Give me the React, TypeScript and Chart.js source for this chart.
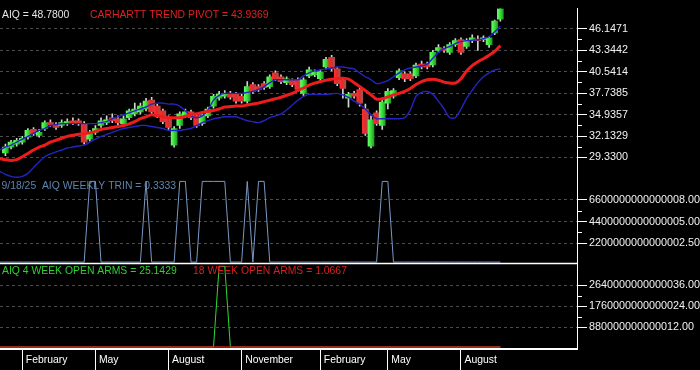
import React, { useEffect, useRef } from 'react';
import { Chart, registerables } from 'chart.js';

Chart.register(...registerables);

// Weekly bars: index 0 = week ending 2024-01-05 ... index 89 = week ending 2025-09-19
const WEEK_COUNT = 90;
const MONTH_TICK_INDEX = [4, 17, 30, 43, 57, 69, 82];
const MONTH_LABELS = ['February', 'May', 'August', 'November', 'February', 'May', 'August'];

const OPEN = [null, 29.93, 30.69, 31.08, 31.33, 31.97, 32.99, 32.22, 33.11, 33.88,
  33.62, 33.50, 33.75, 34.13, 34.13, 33.75, 31.71, 32.60, 33.50, 33.88,
  34.52, 34.39, 33.75, 34.52, 35.03, 35.28, 35.66, 36.81, 36.04, 35.41,
  34.52, 30.95, 33.50, 34.77, 35.28, 34.77, 33.75, 34.77, 36.04, 37.06,
  37.32, 37.70, 37.57, 37.32, 36.68, 38.85, 38.59, 38.97, 38.59, 40.38,
  39.87, 39.10, 39.36, 39.48, 37.70, 39.99, 40.12, 39.61, 41.14, 42.41,
  40.89, 39.48, 37.06, 37.70, 38.21, 35.66, 30.82, 35.15, 33.50, 36.43,
  37.32, 39.74, 40.25, 40.25, 39.99, 41.52, 41.52, 41.40, 43.31, 43.56,
  43.05, 44.07, 44.71, 43.82, 44.58, 44.71, 44.71, 44.07, 45.60, 47.38];

const HIGH = [null, 31.08, 31.58, 31.84, 32.09, 33.11, 33.24, 32.99, 34.13, 34.26,
  33.88, 34.26, 34.39, 34.52, 34.39, 34.01, 32.86, 33.50, 34.52, 34.77,
  35.03, 34.77, 34.77, 35.66, 36.43, 36.43, 37.06, 37.19, 36.30, 35.66,
  34.77, 33.37, 35.28, 35.66, 35.53, 35.03, 35.03, 35.91, 37.57, 37.95,
  38.08, 37.95, 37.83, 37.57, 39.23, 39.10, 38.85, 39.23, 40.12, 40.63,
  40.12, 39.87, 39.61, 39.74, 39.74, 41.14, 40.76, 40.76, 42.41, 42.67,
  41.14, 39.74, 37.83, 37.95, 38.46, 36.30, 34.77, 35.41, 36.81, 38.34,
  38.34, 40.89, 40.50, 40.50, 41.65, 41.90, 41.78, 43.31, 44.07, 43.82,
  44.33, 44.84, 44.96, 44.84, 45.35, 45.22, 45.22, 45.09, 47.26, 48.78];

const LOW = [null, 29.55, 30.44, 30.82, 31.08, 31.71, 32.22, 31.97, 32.86, 33.37,
  32.99, 33.24, 33.50, 33.62, 33.50, 31.08, 31.46, 32.35, 33.24, 33.62,
  33.88, 33.50, 33.50, 34.26, 34.77, 35.03, 35.41, 35.03, 34.52, 33.75,
  32.99, 30.69, 33.11, 34.52, 34.26, 33.24, 33.50, 34.52, 35.78, 36.81,
  37.06, 36.94, 36.43, 36.43, 36.43, 37.70, 37.95, 38.21, 38.34, 39.36,
  38.97, 38.85, 38.59, 37.95, 37.32, 39.74, 39.87, 39.36, 40.89, 40.63,
  38.72, 37.06, 35.91, 37.06, 36.04, 32.22, 30.57, 33.50, 32.99, 35.66,
  37.06, 39.48, 39.23, 39.36, 39.74, 40.89, 40.89, 41.14, 43.05, 43.05,
  42.80, 43.82, 42.80, 43.56, 44.33, 43.31, 44.45, 43.69, 45.35, 47.13];

const CLOSE = [null, 30.69, 31.33, 31.58, 31.84, 32.86, 32.48, 32.60, 33.88, 33.62,
  33.24, 33.88, 34.01, 33.88, 33.75, 31.33, 32.48, 33.11, 34.13, 34.26,
  34.13, 33.88, 34.39, 35.41, 35.66, 36.04, 36.68, 35.28, 34.77, 34.01,
  33.24, 33.11, 35.03, 35.28, 34.52, 33.50, 34.77, 35.66, 37.32, 37.57,
  37.70, 37.19, 36.68, 36.68, 38.59, 37.95, 38.21, 38.46, 39.87, 39.61,
  39.23, 39.61, 38.85, 38.21, 39.48, 40.76, 40.50, 40.50, 42.16, 40.89,
  38.97, 38.34, 37.57, 37.32, 36.43, 32.48, 34.26, 33.75, 36.55, 37.95,
  38.08, 40.63, 39.61, 39.61, 41.40, 41.14, 41.14, 43.05, 43.69, 43.31,
  44.07, 44.58, 43.05, 44.58, 44.96, 44.58, 44.96, 44.96, 47.13, 48.78];

const PIVOT = [29.16, 29.04, 28.95, 29.04, 29.42, 29.86, 30.31, 30.69, 30.95, 31.33,
  31.58, 31.84, 32.09, 32.22, 32.35, 32.41, 32.54, 32.73, 32.99, 33.11,
  33.24, 33.37, 33.50, 33.72, 34.01, 34.39, 34.64, 34.90, 34.77, 34.64,
  34.52, 34.52, 34.52, 34.71, 34.90, 35.03, 35.22, 35.34, 35.47, 35.66,
  35.92, 35.98, 36.04, 36.04, 36.17, 36.30, 36.43, 36.62, 36.81, 37.00,
  37.19, 37.45, 37.70, 38.08, 38.40, 38.78, 39.04, 39.23, 39.42, 39.55,
  39.65, 39.68, 39.55, 39.10, 38.59, 38.08, 37.51, 36.94, 37.00, 37.25,
  37.51, 37.70, 37.95, 38.34, 38.85, 39.23, 39.48, 39.55, 39.42, 39.17,
  39.04, 39.04, 39.61, 40.63, 41.33, 41.84, 42.22, 42.67, 43.18, 43.9369];

const UPPER_BAND = [30.31, 30.69, 30.95, 31.33, 31.71, 32.09, 32.48, 32.86, 33.11, 33.50,
  33.62, 33.75, 33.75, 33.75, 33.75, 33.75, 33.75, 33.75, 33.88, 34.01,
  34.39, 34.64, 34.90, 35.15, 35.41, 35.66, 35.92, 36.30, 36.43, 36.43,
  36.30, 36.30, 36.04, 35.41, 34.77, 34.52, 34.77, 35.53, 36.81, 37.45,
  37.70, 37.70, 37.70, 37.70, 37.83, 37.95, 38.21, 38.59, 39.10, 39.48,
  39.48, 39.48, 39.48, 39.48, 39.99, 40.38, 40.63, 40.76, 40.89, 41.01,
  41.14, 41.14, 41.01, 40.89, 40.38, 39.87, 39.48, 38.97, 39.10, 39.36,
  39.87, 40.38, 40.76, 41.01, 41.14, 41.27, 41.52, 42.29, 43.05, 43.56,
  43.82, 44.20, 44.45, 44.58, 44.64, 44.71, 44.83, 45.09, 45.73, 46.49];

const LOWER_BAND = [27.51, 27.13, 26.87, 26.74, 26.87, 27.25, 28.02, 28.78, 29.42, 29.80,
  30.06, 30.31, 30.57, 30.69, 30.82, 30.95, 31.33, 31.71, 32.09, 32.35,
  32.60, 32.86, 33.11, 33.24, 33.37, 33.50, 33.50, 33.37, 33.24, 33.11,
  32.86, 32.86, 32.86, 32.99, 33.11, 33.50, 33.88, 34.13, 34.39, 34.52,
  34.64, 34.64, 34.64, 34.39, 34.13, 34.01, 33.88, 34.13, 34.52, 34.77,
  35.03, 35.53, 36.17, 36.81, 37.32, 37.57, 37.57, 37.57, 37.57, 37.64,
  37.70, 37.51, 37.19, 36.68, 36.30, 35.66, 34.90, 34.39, 34.39, 34.39,
  34.39, 34.39, 34.52, 35.53, 37.32, 37.83, 37.95, 37.57, 36.68, 35.66,
  34.52, 34.52, 35.66, 37.06, 38.08, 39.10, 39.87, 40.38, 40.76, 40.89];

const TRIN = [0.14, 0.14, 0.14, 0.14, 0.14, 0.14, 0.14, 0.14, 0.14, 0.14,
  0.14, 0.14, 0.14, 0.14, 0.14, 0.14, 3.84, 3.84, 0.14, 0.14,
  0.14, 0.14, 0.14, 0.14, 0.14, 0.14, 3.84, 0.14, 0.14, 0.14,
  0.14, 0.14, 3.84, 3.84, 0.14, 0.14, 3.84, 3.84, 3.84, 3.84,
  3.84, 0.14, 0.14, 0.14, 3.84, 0.14, 3.84, 3.84, 0.14, 0.14,
  0.14, 0.14, 0.14, 0.14, 0.14, 0.14, 0.14, 0.14, 0.14, 0.14,
  0.14, 0.14, 0.14, 0.14, 0.14, 0.14, 0.14, 0.14, 3.84, 3.84,
  0.14, 0.14, 0.14, 0.14, 0.14, 0.14, 0.14, 0.14, 0.14, 0.14,
  0.14, 0.14, 0.14, 0.14, 0.14, 0.14, 0.14, 0.14, 0.14, 0.14];

const ARMS_4WK = [0.055, 0.055, 0.055, 0.055, 0.055, 0.055, 0.055, 0.055, 0.055, 0.055,
  0.055, 0.055, 0.055, 0.055, 0.055, 0.055, 0.055, 0.055, 0.055, 0.055,
  0.055, 0.055, 0.055, 0.055, 0.055, 0.055, 0.055, 0.055, 0.055, 0.055,
  0.055, 0.055, 0.055, 0.055, 0.055, 0.055, 0.055, 0.055, 0.055, 3.91,
  3.91, 0.055, 0.055, 0.055, 0.055, 0.055, 0.055, 0.055, 0.055, 0.055,
  0.055, 0.055, 0.055, 0.055, 0.055, 0.055, 0.055, 0.055, 0.055, 0.055,
  0.055, 0.055, 0.055, 0.055, 0.055, 0.055, 0.055, 0.055, 0.055, 0.055,
  0.055, 0.055, 0.055, 0.055, 0.055, 0.055, 0.055, 0.055, 0.055, 0.055,
  0.055, 0.055, 0.055, 0.055, 0.055, 0.055, 0.055, 0.055, 0.055, 0.055];

const ARMS_18WK = [0.055, 0.055, 0.055, 0.055, 0.055, 0.055, 0.055, 0.055, 0.055, 0.055,
  0.055, 0.055, 0.055, 0.055, 0.055, 0.055, 0.055, 0.055, 0.055, 0.055,
  0.055, 0.055, 0.055, 0.055, 0.055, 0.055, 0.055, 0.055, 0.055, 0.055,
  0.055, 0.055, 0.055, 0.055, 0.055, 0.055, 0.055, 0.055, 0.055, 0.055,
  0.055, 0.055, 0.055, 0.055, 0.055, 0.055, 0.055, 0.055, 0.055, 0.055,
  0.055, 0.055, 0.055, 0.055, 0.055, 0.055, 0.055, 0.055, 0.055, 0.055,
  0.055, 0.055, 0.055, 0.055, 0.055, 0.055, 0.055, 0.055, 0.055, 0.055,
  0.055, 0.055, 0.055, 0.055, 0.055, 0.055, 0.055, 0.055, 0.055, 0.055,
  0.055, 0.055, 0.055, 0.055, 0.055, 0.055, 0.055, 0.055, 0.055, 0.055];

const PRICE_TICKS = [29.3300, 32.1329, 34.9357, 37.7385, 40.5414, 43.3442, 46.1471];
const TRIN_TICKS = [1, 2, 3];
const TRIN_TICK_LABELS = ['2200000000000002.50', '4400000000000005.00', '6600000000000008.00'];
const ARMS_TICKS = [1, 2, 3];
const ARMS_TICK_LABELS = ['880000000000012.00', '1760000000000024.00', '2640000000000036.00'];

const LAST_DATE = '9/18/25';
const TRIN_READING = '0.3333';
const ARMS_4WK_READING = '25.1429';
const ARMS_18WK_READING = '1.0667';

const FONT = '"Liberation Sans", Arial, Helvetica, sans-serif';
const GRID = '#4c4c4c';

const pts = (arr: number[]) => arr.map((v, i) => ({ x: i, y: v }));
const candleIdx: number[] = [];
for (let i = 0; i < WEEK_COUNT; i++) if (OPEN[i] != null) candleIdx.push(i);

const bodyColor = (ctx: any) => {
  const raw = ctx.raw;
  if (!raw) return '#22cc22';
  const i = raw.x;
  const up = (CLOSE[i] as number) >= (OPEN[i] as number);
  const chart = ctx.chart;
  const xs = chart.scales && chart.scales.x;
  if (!xs || !chart.chartArea) return up ? '#30d030' : '#d83030';
  const px = xs.getPixelForValue(i);
  const g = chart.ctx.createLinearGradient(px - 3, 0, px + 3, 0);
  if (up) {
    g.addColorStop(0, '#66ff66');
    g.addColorStop(0.45, '#3ee03e');
    g.addColorStop(1, '#1f9f1f');
  } else {
    g.addColorStop(0, '#ff2e2e');
    g.addColorStop(0.45, '#e22a2a');
    g.addColorStop(1, '#a85252');
  }
  return g;
};

const overlayPlugin = {
  id: 'panelOverlay',
  afterDraw(chart: any) {
    const { ctx, chartArea, scales } = chart;
    const yP = scales.yPrice;
    const yT = scales.yTrin;
    const yA = scales.yArms;
    ctx.save();
    // separator between TRIN and ARMS panels
    ctx.strokeStyle = '#ffffff';
    ctx.lineWidth = 1.5;
    ctx.beginPath();
    ctx.moveTo(chartArea.left, yA.top + 0.4);
    ctx.lineTo(chartArea.right, yA.top + 0.4);
    ctx.stroke();
    // minor ticks
    ctx.lineWidth = 1;
    ctx.beginPath();
    const minor = (s: any, t: number[]) => {
      for (let k = 0; k < t.length - 1; k++) {
        const y = Math.round(s.getPixelForValue((t[k] + t[k + 1]) / 2)) + 0.5;
        ctx.moveTo(s.left, y);
        ctx.lineTo(s.left + 5, y);
      }
    };
    minor(yP, PRICE_TICKS);
    minor(yT, TRIN_TICKS);
    minor(yA, ARMS_TICKS);
    ctx.stroke();
    // panel titles
    ctx.font = `10.4px ${FONT}`;
    ctx.textBaseline = 'middle';
    ctx.textAlign = 'left';
    ctx.fillStyle = '#e6e6e6';
    ctx.fillText(`AIQ = ${(CLOSE[CLOSE.length - 1] as number).toFixed(4)}`, 2, yP.top + 6.5);
    ctx.fillStyle = '#e02020';
    ctx.fillText(`CARHARTT TREND PIVOT = ${PIVOT[PIVOT.length - 1].toFixed(4)}`, 90, yP.top + 6.5);
    ctx.fillStyle = '#5f82ad';
    ctx.fillText(`${LAST_DATE}  AIQ WEEKLY TRIN = ${TRIN_READING}`, 1.5, yT.top + 6.8);
    ctx.fillStyle = '#30d030';
    ctx.fillText(`AIQ 4 WEEK OPEN ARMS = ${ARMS_4WK_READING}`, 2, yA.top + 8.2);
    ctx.fillStyle = '#d42020';
    ctx.fillText(`18 WEEK OPEN ARMS = ${ARMS_18WK_READING}`, 193, yA.top + 8.2);
    ctx.restore();
  },
};

const rightAxisBase = (ticks: number[], labelFn: (v: number, i: number) => string) => ({
  type: 'linear' as const,
  axis: 'y' as const,
  position: 'right' as const,
  stack: 'panels',
  afterFit: (s: any) => { s.width = 123; },
  afterBuildTicks: (s: any) => { s.ticks = ticks.map((value) => ({ value })); },
  grid: {
    color: GRID,
    lineWidth: 1,
    drawTicks: true,
    tickLength: 10,
    tickColor: '#ffffff',
    tickWidth: 1,
  },
  border: { display: true, color: '#ffffff', width: 1, dash: [3, 3] },
  ticks: {
    autoSkip: false,
    padding: 2,
    color: '#f2f2f2',
    font: { family: FONT, size: 10.8 },
    callback: (v: any, i: number) => labelFn(Number(v), i),
  },
});

export default function App() {
  const ref = useRef<HTMLCanvasElement>(null);

  useEffect(() => {
    document.body.style.margin = '0';
    document.body.style.background = '#000';
    const canvas = ref.current;
    if (!canvas) return;

    const chart = new Chart(canvas, {
      type: 'bar',
      data: {
        datasets: [
          {
            type: 'line',
            label: 'Trend pivot',
            data: pts(PIVOT),
            xAxisID: 'x',
            yAxisID: 'yPrice',
            borderColor: '#ee1c1c',
            borderWidth: 3,
            pointRadius: 0,
            tension: 0.25,
            order: 0,
          } as any,
          {
            type: 'line',
            label: 'Upper band',
            data: pts(UPPER_BAND),
            xAxisID: 'x',
            yAxisID: 'yPrice',
            borderColor: '#2424c4',
            borderWidth: 1.4,
            pointRadius: 0,
            tension: 0.25,
            order: 1,
          } as any,
          {
            type: 'line',
            label: 'Lower band',
            data: pts(LOWER_BAND),
            xAxisID: 'x',
            yAxisID: 'yPrice',
            borderColor: '#2424c4',
            borderWidth: 1.4,
            pointRadius: 0,
            tension: 0.25,
            order: 1,
          } as any,
          {
            type: 'bar',
            label: 'Bodies',
            data: candleIdx.map((i) => ({ x: i, y: [OPEN[i], CLOSE[i]] })),
            xAxisID: 'x',
            yAxisID: 'yPrice',
            backgroundColor: bodyColor,
            borderWidth: 0,
            barThickness: 6,
            minBarLength: 1.5,
            grouped: false,
            order: 3,
          } as any,
          {
            type: 'bar',
            label: 'Wicks',
            data: candleIdx.map((i) => ({ x: i, y: [LOW[i], HIGH[i]] })),
            xAxisID: 'x',
            yAxisID: 'yPrice',
            backgroundColor: '#d4d4d4',
            borderWidth: 0,
            barThickness: 1,
            grouped: false,
            order: 4,
          } as any,
          {
            type: 'line',
            label: 'Weekly TRIN',
            data: pts(TRIN),
            xAxisID: 'x',
            yAxisID: 'yTrin',
            borderColor: '#7b98c4',
            borderWidth: 1,
            pointRadius: 0,
            tension: 0,
            order: 2,
          } as any,
          {
            type: 'line',
            label: '18 week open arms',
            data: pts(ARMS_18WK),
            xAxisID: 'x',
            yAxisID: 'yArms',
            borderColor: '#c41e1e',
            borderWidth: 1.5,
            pointRadius: 0,
            tension: 0,
            order: 0,
          } as any,
          {
            type: 'line',
            label: '4 week open arms',
            data: pts(ARMS_4WK),
            xAxisID: 'x',
            yAxisID: 'yArms',
            borderColor: '#34d634',
            borderWidth: 1,
            pointRadius: 0,
            tension: 0,
            order: 1,
          } as any,
        ],
      },
      options: {
        responsive: false,
        animation: false,
        devicePixelRatio: 1,
        events: [],
        layout: { padding: 0 },
        plugins: {
          legend: { display: false },
          tooltip: { enabled: false },
          title: { display: false },
        },
        scales: {
          x: {
            type: 'linear',
            axis: 'x',
            position: 'bottom',
            min: 0.0356,
            max: 102.63,
            offset: false,
            afterFit: (s: any) => { s.height = 21; },
            afterBuildTicks: (s: any) => { s.ticks = MONTH_TICK_INDEX.map((value) => ({ value })); },
            grid: {
              display: true,
              offset: false,
              drawOnChartArea: false,
              drawTicks: true,
              tickLength: 21,
              tickColor: '#ffffff',
              tickWidth: 1,
              color: '#ffffff',
            },
            border: { display: true, color: '#ffffff', width: 2 },
            ticks: {
              autoSkip: false,
              maxRotation: 0,
              minRotation: 0,
              align: 'start',
              labelOffset: 3.5,
              padding: -16.3,
              color: '#ffffff',
              font: { family: FONT, size: 10.4 },
              callback: (_v: any, i: number) => MONTH_LABELS[i],
            },
          },
          yPrice: {
            ...rightAxisBase(PRICE_TICKS, (v) => v.toFixed(4)),
            stackWeight: 174.7,
            min: 26.5272,
            max: 48.7843,
          },
          yTrin: {
            ...rightAxisBase(TRIN_TICKS, (_v, i) => TRIN_TICK_LABELS[i]),
            stackWeight: 86.3,
            min: 0.092,
            max: 3.953,
          },
          yArms: {
            ...rightAxisBase(ARMS_TICKS, (_v, i) => ARMS_TICK_LABELS[i]),
            stackWeight: 88,
            min: -0.04,
            max: 4.063,
          },
        } as any,
      },
      plugins: [overlayPlugin],
    } as any);

    return () => chart.destroy();
  }, []);

  return (
    <div style={{ position: 'fixed', left: 0, top: 0, width: 700, height: 370, background: '#000' }}>
      <canvas ref={ref} width={700} height={370} style={{ display: 'block', width: 700, height: 370 }} />
    </div>
  );
}
